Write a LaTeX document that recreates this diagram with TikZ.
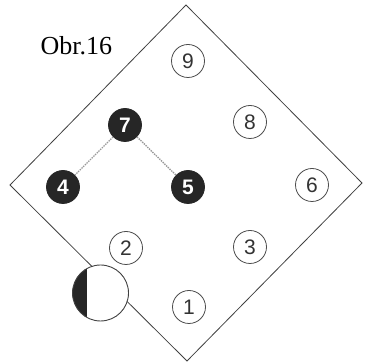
\documentclass[tikz,border=0pt]{standalone}
\usepackage{fontspec}
\setmainfont{Liberation Serif}
\newfontfamily\digitfont{Liberation Sans}
\begin{document}
\begin{tikzpicture}[x=1pt,y=-1pt,
  light/.style={circle,draw=black!70,line width=0.8pt,fill=white,minimum size=33pt,inner sep=0pt,
    font=\digitfont\fontsize{21}{21}\selectfont,text=black!80},
  dark/.style={circle,draw=black!85,line width=0.8pt,fill=black!85,minimum size=33pt,inner sep=0pt,
    font=\digitfont\bfseries\fontsize{21}{21}\selectfont,text=white},
  link/.style={draw=black!40,line width=1.4pt,densely dotted},
  edge/.style={draw=black!75,line width=0.8pt}]
\useasboundingbox (0,0) rectangle (365,363);
\coordinate (T) at (186,5);
\coordinate (R) at (362,183);
\coordinate (B) at (187,361);
\coordinate (L) at (10,185);
\draw[edge] (T) -- (R) -- (B) -- (L) -- cycle;
\node[anchor=base west,font=\fontsize{26}{26}\selectfont] (title) at (37,55) {Obr.16};
\node[light] (n9) at (188,61) {9};
\node[light] (n8) at (250,122) {8};
\node[light] (n6) at (312,185) {6};
\node[dark]  (n7) at (125,125) {7};
\node[dark]  (n5) at (188,187) {5};
\node[dark]  (n4) at (63,187) {4};
\node[light] (n3) at (250,247) {3};
\node[light] (n2) at (126,248) {2};
\node[light] (n1) at (189,307) {1};
\draw[link] (n7) -- (n4);
\draw[link] (n7) -- (n5);
\node[circle,fill=white,minimum size=56pt,inner sep=0pt] (big) at (100.5,293) {};
\begin{scope}
  \clip (big.center) circle (28);
  \fill[black!85] (60,250) rectangle (87,340);
\end{scope}
\draw[black!75,line width=0.9pt] (big.center) circle (28);
\end{tikzpicture}
\end{document}
